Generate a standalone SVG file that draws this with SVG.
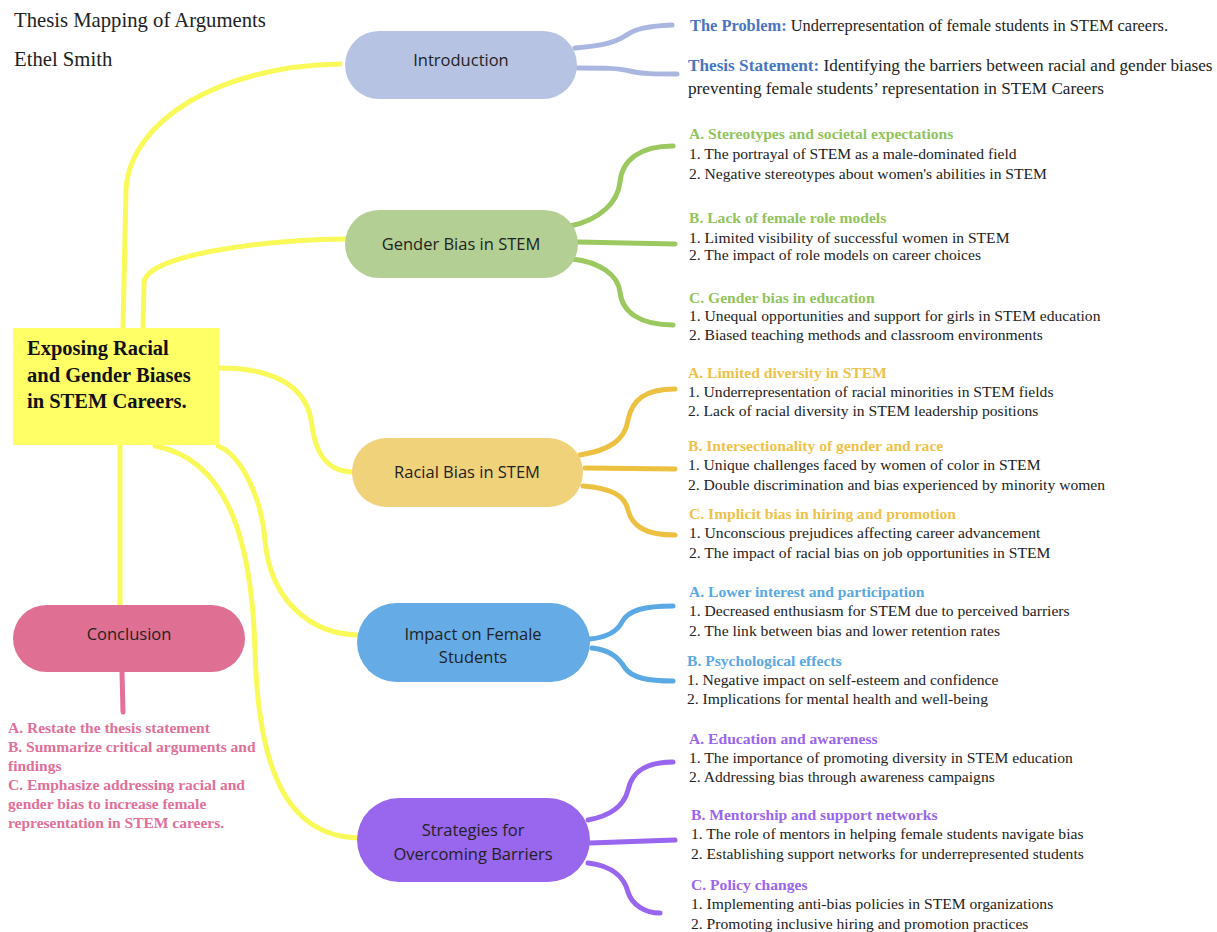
<svg xmlns="http://www.w3.org/2000/svg" width="1217" height="932" viewBox="0 0 1217 932">
<style>
.serif{font-family:"Liberation Serif","Times New Roman",serif}
.title{font-size:20.7px;fill:#222}
.node{font-family:"Open Sans","Noto Sans",sans-serif;font-size:16.5px;fill:#222;text-anchor:middle}
.item{font-family:"Liberation Serif",serif;font-size:15.6px;fill:#222}
.hd{font-family:"Liberation Serif",serif;font-size:15.6px;font-weight:bold}
.y{fill:none;stroke:#f9f95a;stroke-width:5;stroke-linecap:round}
.br{fill:none;stroke-width:5;stroke-linecap:round}
</style>
<rect width="1217" height="932" fill="#ffffff"/>
<text class="serif title" x="14" y="27">Thesis Mapping of Arguments</text>
<text class="serif title" x="14" y="66">Ethel Smith</text>

<g id="connectors">
  <path class="y" d="M123,328 L126,190 C130,120 220,66 340,64"/>
  <path class="y" d="M143,328 L144,282 C148,255 260,240 345,239"/>
  <path class="y" d="M219,368 C280,368 308,390 312,425 C316,458 330,472 354,472"/>
  <path class="y" d="M218,446 C242,455 262,500 265,540 C270,600 310,634 358,635"/>
  <path class="y" d="M155,446 C232,460 252,550 255,650 C258,760 282,836 358,838"/>
  <path class="y" d="M120,446 L120,606"/>
  <path class="br" stroke="#e2709a" d="M122,672 L123,712"/>
  <g stroke="#a9b7e0">
    <path class="br" d="M575,48 C600,46 614,43 625,36 C636,28 650,26 672,25"/>
    <path class="br" d="M578,68 C605,68 618,68 630,71 C642,74 655,74 677,74"/>
  </g>
  <g stroke="#9bc85f">
    <path class="br" d="M570,226 C600,220 618,202 620,182 C622,160 640,146 673,146"/>
    <path class="br" d="M578,242 L675,244"/>
    <path class="br" d="M572,259 C600,262 618,275 620,292 C622,312 640,325 673,325"/>
  </g>
  <g stroke="#ecc040">
    <path class="br" d="M580,455 C610,450 625,440 628,420 C632,400 645,389 675,389"/>
    <path class="br" d="M585,468 L675,469"/>
    <path class="br" d="M583,486 C610,488 625,495 628,510 C632,526 645,535 675,535"/>
  </g>
  <g stroke="#5aa8e4">
    <path class="br" d="M590,639 C610,637 618,630 622,622 C628,610 645,606 673,606"/>
    <path class="br" d="M592,648 C612,650 620,660 625,668 C632,678 648,681 673,681"/>
  </g>
  <g stroke="#9966f0">
    <path class="br" d="M588,820 C615,815 625,802 628,790 C632,772 645,762 673,762"/>
    <path class="br" d="M590,843 L675,840"/>
    <path class="br" d="M588,863 C615,866 625,880 628,892 C632,905 645,913 660,913"/>
  </g>
</g>

<g id="central">
  <rect x="13" y="328" width="206" height="117" fill="#ffff66"/>
  <text class="serif" font-weight="bold" font-size="20.5" fill="#111"><tspan x="27" y="355">Exposing Racial</tspan><tspan x="27" y="382">and Gender Biases</tspan><tspan x="27" y="408">in STEM Careers.</tspan></text>
</g>

<g id="introduction">
  <rect x="345" y="31" width="232" height="68" rx="34" fill="#b7c3e3"/>
  <text class="node" x="461" y="66">Introduction</text>
</g>
<g id="intro-text">
  <text class="item" style="font-size:16.4px" x="690" y="31"><tspan class="hd" style="font-size:16.4px" fill="#4a75c2">The Problem:</tspan> Underrepresentation of female students in STEM careers.</text>
  <text class="item" style="font-size:17.2px" x="688" y="71"><tspan class="hd" style="font-size:17.2px" fill="#4a75c2">Thesis Statement:</tspan> Identifying the barriers between racial and gender biases</text>
  <text class="item" style="font-size:17.2px" x="688" y="94">preventing female students’ representation in STEM Careers</text>
</g>

<g id="gender">
  <rect x="345" y="210" width="233" height="68" rx="34" fill="#b3cf94"/>
  <text class="node" x="461" y="250">Gender Bias in STEM</text>
</g>
<g id="gender-text">
  <text class="hd" fill="#92c35c" x="689" y="139">A. Stereotypes and societal expectations</text>
  <text class="item" x="689" y="159">1. The portrayal of STEM as a male-dominated field</text>
  <text class="item" x="689" y="179">2. Negative stereotypes about women's abilities in STEM</text>
  <text class="hd" fill="#92c35c" x="689" y="223">B. Lack of female role models</text>
  <text class="item" x="689" y="243">1. Limited visibility of successful women in STEM</text>
  <text class="item" x="689" y="260">2. The impact of role models on career choices</text>
  <text class="hd" fill="#92c35c" x="689" y="303">C. Gender bias in education</text>
  <text class="item" x="689" y="321">1. Unequal opportunities and support for girls in STEM education</text>
  <text class="item" x="689" y="340">2. Biased teaching methods and classroom environments</text>
</g>

<g id="racial">
  <rect x="352" y="438" width="231" height="69" rx="34.5" fill="#f0d27a"/>
  <text class="node" x="467" y="478">Racial Bias in STEM</text>
</g>
<g id="racial-text">
  <text class="hd" fill="#eec24a" x="688" y="378">A. Limited diversity in STEM</text>
  <text class="item" x="688" y="397">1. Underrepresentation of racial minorities in STEM fields</text>
  <text class="item" x="688" y="416">2. Lack of racial diversity in STEM leadership positions</text>
  <text class="hd" fill="#eec24a" x="688" y="451">B. Intersectionality of gender and race</text>
  <text class="item" x="688" y="470">1. Unique challenges faced by women of color in STEM</text>
  <text class="item" x="688" y="490">2. Double discrimination and bias experienced by minority women</text>
  <text class="hd" fill="#eec24a" x="689" y="519">C. Implicit bias in hiring and promotion</text>
  <text class="item" x="689" y="538">1. Unconscious prejudices affecting career advancement</text>
  <text class="item" x="689" y="558">2. The impact of racial bias on job opportunities in STEM</text>
</g>

<g id="impact">
  <rect x="357" y="603" width="233" height="79" rx="39.5" fill="#65ace6"/>
  <text class="node"><tspan x="473" y="640">Impact on Female</tspan><tspan x="473" y="663">Students</tspan></text>
</g>
<g id="impact-text">
  <text class="hd" fill="#5aa8e4" x="689" y="597">A. Lower interest and participation</text>
  <text class="item" x="689" y="616">1. Decreased enthusiasm for STEM due to perceived barriers</text>
  <text class="item" x="689" y="636">2. The link between bias and lower retention rates</text>
  <text class="hd" fill="#5aa8e4" x="687" y="666">B. Psychological effects</text>
  <text class="item" x="687" y="685">1. Negative impact on self-esteem and confidence</text>
  <text class="item" x="687" y="704">2. Implications for mental health and well-being</text>
</g>

<g id="strategies">
  <rect x="357" y="798" width="233" height="84" rx="42" fill="#9966ee"/>
  <text class="node"><tspan x="473" y="836">Strategies for</tspan><tspan x="473" y="860">Overcoming Barriers</tspan></text>
</g>
<g id="strategies-text">
  <text class="hd" fill="#9a66ee" x="689" y="744">A. Education and awareness</text>
  <text class="item" x="689" y="763">1. The importance of promoting diversity in STEM education</text>
  <text class="item" x="689" y="782">2. Addressing bias through awareness campaigns</text>
  <text class="hd" fill="#9a66ee" x="691" y="820">B. Mentorship and support networks</text>
  <text class="item" x="691" y="839">1. The role of mentors in helping female students navigate bias</text>
  <text class="item" x="691" y="859">2. Establishing support networks for underrepresented students</text>
  <text class="hd" fill="#9a66ee" x="691" y="890">C. Policy changes</text>
  <text class="item" x="691" y="909">1. Implementing anti-bias policies in STEM organizations</text>
  <text class="item" x="691" y="929">2. Promoting inclusive hiring and promotion practices</text>
</g>

<g id="conclusion">
  <rect x="13" y="605" width="232" height="67" rx="33.5" fill="#e07093"/>
  <text class="node" x="129" y="640">Conclusion</text>
</g>
<g id="conclusion-text">
  <text class="serif" font-weight="bold" font-size="15.5" fill="#e0709a"><tspan x="8" y="733">A. Restate the thesis statement</tspan><tspan x="8" y="752">B. Summarize critical arguments and</tspan><tspan x="8" y="771">findings</tspan><tspan x="8" y="790">C. Emphasize addressing racial and</tspan><tspan x="8" y="809">gender bias to increase female</tspan><tspan x="8" y="828">representation in STEM careers.</tspan></text>
</g>
</svg>
